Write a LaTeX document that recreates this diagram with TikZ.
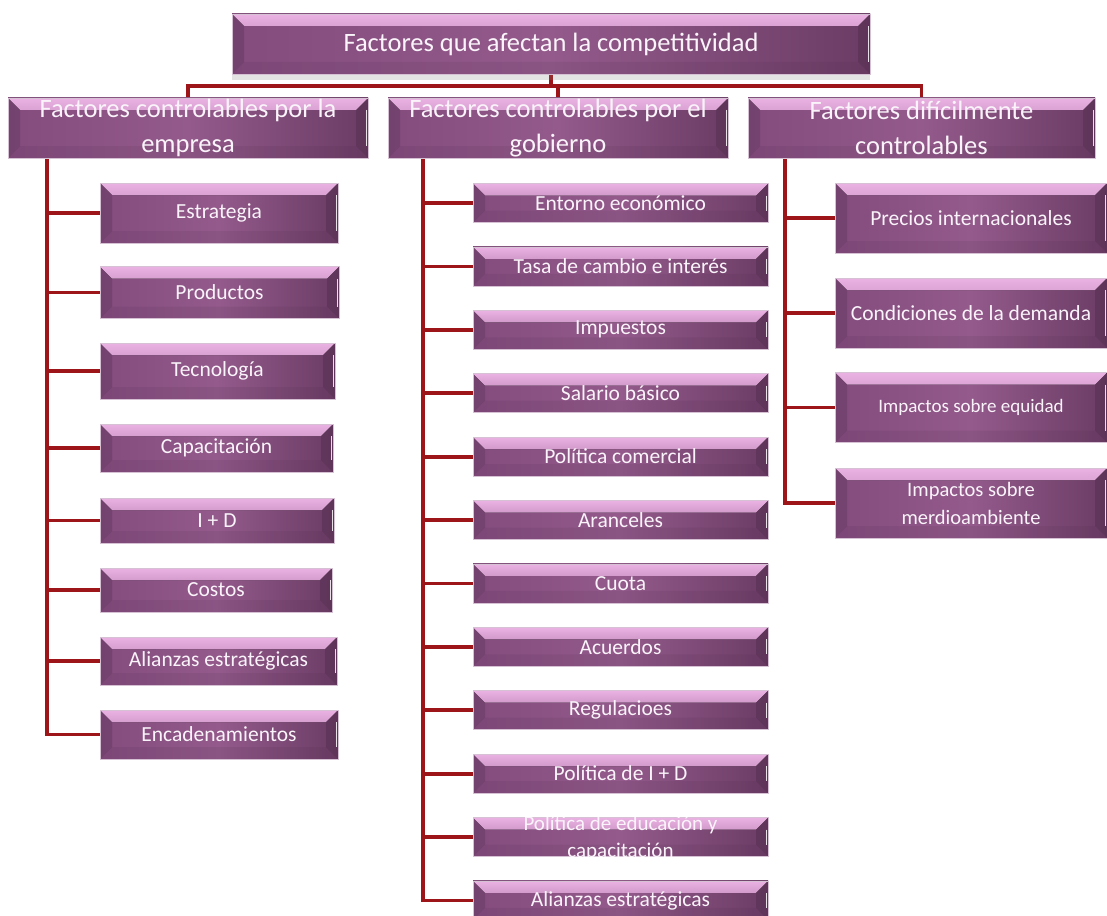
\documentclass[tikz,border=0pt]{standalone}
\usepackage{fontspec}
\setmainfont{Carlito}
\usetikzlibrary{backgrounds,shadows}
\definecolor{pdarkL}{HTML}{834C7D}
\definecolor{pmid}{HTML}{935A8B}
\definecolor{pdarkR}{HTML}{6B3C65}
\definecolor{bevtop}{HTML}{E9B2E2}
\definecolor{bevbot}{HTML}{9E6396}
\definecolor{bevside}{HTML}{4E2A4A}
\definecolor{boxline}{HTML}{D6C0D3}
\definecolor{conncol}{HTML}{9E1519}
\definecolor{txtcol}{HTML}{FAF4FA}
\newcommand{\bv}{12pt}
\tikzset{
  bevbox/.style={rectangle, inner sep=0pt, draw=boxline, line width=0.6pt,
    left color=pdarkL, right color=pdarkR, middle color=pmid,
    text=txtcol, align=center,
    path picture={
      \fill[top color=bevtop, bottom color=bevbot]
        (path picture bounding box.north west) -- (path picture bounding box.north east)
        -- ([shift={(-\bv,-\bv)}]path picture bounding box.north east)
        -- ([shift={(\bv,-\bv)}]path picture bounding box.north west) -- cycle;
      \fill[bevside, opacity=0.28]
        (path picture bounding box.north west) -- ([shift={(\bv,-\bv)}]path picture bounding box.north west)
        -- ([shift={(\bv,\bv)}]path picture bounding box.south west) -- (path picture bounding box.south west) -- cycle;
      \fill[bevside, opacity=0.4]
        (path picture bounding box.north east) -- ([shift={(-\bv,-\bv)}]path picture bounding box.north east)
        -- ([shift={(-\bv,\bv)}]path picture bounding box.south east) -- (path picture bounding box.south east) -- cycle;
      \fill[bevside, opacity=0.12]
        (path picture bounding box.south west) -- ([shift={(\bv,\bv)}]path picture bounding box.south west)
        -- ([shift={(-\bv,\bv)}]path picture bounding box.south east) -- (path picture bounding box.south east) -- cycle;
      \draw[white, opacity=0.85, line width=1.4pt]
        ([shift={(-1.5pt,-\bv)}]path picture bounding box.north east) -- ([shift={(-1.5pt,\bv)}]path picture bounding box.south east);
    }},
  txt/.style={text=txtcol, align=center, inner sep=0pt},
  big/.style={font=\fontsize{26.5}{35}\selectfont},
  mid/.style={font=\fontsize{21.5}{27}\selectfont},
  conn/.style={draw=conncol, line width=3.8pt},
}
\begin{document}
\begin{tikzpicture}[x=1pt,y=-1pt]
\useasboundingbox (0,0) rectangle (1107,915);
% title and headers
\node[bevbox, big, minimum width=638pt, minimum height=60pt,
      drop shadow={shadow xshift=0pt, shadow yshift=-6pt, opacity=0.22}] (top) at (551,44) {Factores que afectan la competitividad};
\node[bevbox, big, minimum width=360pt, minimum height=60pt] (h1) at (188,128) {Factores controlables por la\\empresa};
\node[bevbox, big, minimum width=340pt, minimum height=60pt] (h2) at (558,128) {Factores controlables por el\\gobierno};
\node[bevbox, big, minimum width=347pt, minimum height=60pt] (h3) at (921.5,128) {Factores difícilmente\\controlables};
% column 1
\node[bevbox, mid, minimum width=238pt, minimum height=60pt] (c1) at (219,213) {Estrategia};
\node[bevbox, mid, minimum width=239pt, minimum height=52pt] (c2) at (219.5,292.5) {Productos};
\node[bevbox, mid, minimum width=235pt, minimum height=56pt] (c3) at (217.5,371) {Tecnología};
\node[bevbox, mid, minimum width=233pt, minimum height=48pt] (c4) at (216.5,448) {Capacitación};
\node[bevbox, mid, minimum width=234pt, minimum height=45pt] (c5) at (217,520.5) {I + D};
\node[bevbox, mid, minimum width=232pt, minimum height=44pt] (c6) at (216,590) {Costos};
\node[bevbox, mid, minimum width=237pt, minimum height=48pt] (c7) at (218.5,661) {Alianzas estratégicas};
\node[bevbox, mid, minimum width=238pt, minimum height=49pt] (c8) at (219,734.5) {Encadenamientos};
% column 2
\tikzset{g/.style={bevbox, mid, minimum width=295pt, minimum height=39pt}}
\node[g] (g1) at (620.5,203) {Entorno económico};
\node[g] (g2) at (620.5,266.4) {Tasa de cambio e interés};
\node[g] (g3) at (620.5,329.8) {Impuestos};
\node[g] (g4) at (620.5,393.2) {Salario básico};
\node[g] (g5) at (620.5,456.6) {Política comercial};
\node[g] (g6) at (620.5,520) {Aranceles};
\node[g] (g7) at (620.5,583.4) {Cuota};
\node[g] (g8) at (620.5,646.8) {Acuerdos};
\node[g] (g9) at (620.5,710.2) {Regulacioes};
\node[g] (g10) at (620.5,773.6) {Política de I + D};
\node[g] (g11) at (620.5,837) {};
\begin{scope}
  \clip (g11.north west) rectangle (g11.south east);
  \node[txt, font=\fontsize{21}{27}\selectfont] (g11t) at (620.5,838) {Política de educación y\\capacitación};
\end{scope}
\node[g] (g12) at (620.5,900.4) {Alianzas estratégicas};
% column 3
\tikzset{d/.style={bevbox, minimum width=272pt, minimum height=70pt}}
\node[d, mid] (d1) at (971,218) {Precios internacionales};
\node[d, mid] (d2) at (971,313) {Condiciones de la demanda};
\node[d, font=\fontsize{19}{24}\selectfont] (d3) at (971,407.5) {Impactos sobre equidad};
\node[d, font=\fontsize{20.5}{28}\selectfont] (d4) at (971,503) {Impactos sobre\\merdioambiente};
% connectors
\begin{pgfonlayer}{background}
  \coordinate (bus) at (551,86);
  \draw[conn] (top.south) -- (bus);
  \draw[conn] (h1.north) |- (bus) -| (h3.north);
  \draw[conn] (h2.north) -- (h2.north |- bus);
  \coordinate (t1) at ([xshift=39pt]h1.south west);
  \coordinate (t2) at ([xshift=35pt]h2.south west);
  \coordinate (t3) at ([xshift=37pt]h3.south west);
  \draw[conn] (t1) |- (c8.west);
  \foreach \n in {c1,c2,c3,c4,c5,c6,c7} \draw[conn] (t1 |- \n.west) -- (\n.west);
  \draw[conn] (t2) |- (g12.west);
  \foreach \n in {g1,g2,g3,g4,g5,g6,g7,g8,g9,g10,g11} \draw[conn] (t2 |- \n.west) -- (\n.west);
  \draw[conn] (t3) |- (d4.west);
  \foreach \n in {d1,d2,d3} \draw[conn] (t3 |- \n.west) -- (\n.west);
\end{pgfonlayer}
\end{tikzpicture}
\end{document}
